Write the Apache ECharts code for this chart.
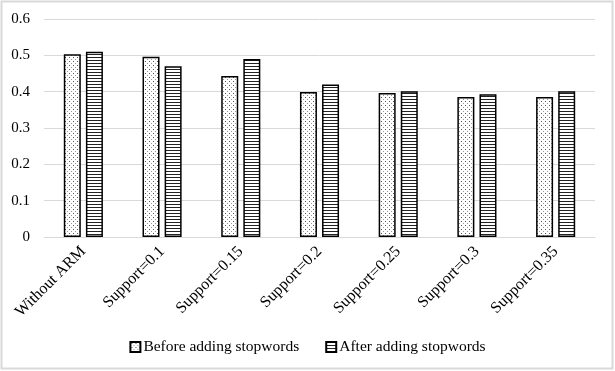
<!DOCTYPE html>
<html>
<head>
<meta charset="utf-8">
<script src="https://cdn.jsdelivr.net/npm/echarts@6/dist/echarts.min.js"></script>
<style>
  html, body { margin: 0; padding: 0; background: #fff; }
  #chart { width: 615px; height: 371px; }
</style>
</head>
<body>
<div id="chart"></div>
<script>
// values
const categories = ['Without ARM', 'Support=0.1', 'Support=0.15', 'Support=0.2', 'Support=0.25', 'Support=0.3', 'Support=0.35'];
const beforeStop = [0.503, 0.496, 0.443, 0.399, 0.396, 0.385, 0.385];
const afterStop = [0.510, 0.470, 0.490, 0.420, 0.401, 0.393, 0.401];
const yTicks = [0, 0.1, 0.2, 0.3, 0.4, 0.5, 0.6];

// dotted fill
const makeDots = () => {
  const c = document.createElement('canvas');
  c.width = 4; c.height = 4;
  const ctx = c.getContext('2d');
  ctx.fillStyle = '#fff';
  ctx.fillRect(0, 0, 4, 4);
  ctx.fillStyle = '#555';
  ctx.fillRect(1, 1, 1, 1);
  ctx.fillStyle = '#999';
  ctx.fillRect(3, 3, 1, 1);
  return c;
};
// horizontal stripes
const makeStripes = () => {
  const c = document.createElement('canvas');
  c.width = 4; c.height = 3;
  const ctx = c.getContext('2d');
  ctx.fillStyle = '#fff';
  ctx.fillRect(0, 0, 4, 3);
  ctx.fillStyle = '#222';
  ctx.fillRect(0, 0, 4, 1);
  return c;
};

const font = '"Liberation Serif", "Times New Roman", serif';
const myChart = echarts.init(document.getElementById('chart'));

const option = {
  backgroundColor: '#fff',
  animation: false,
  textStyle: { fontFamily: font },
  graphic: [{
    type: 'rect',
    shape: { x: 1.5, y: 1.5, width: 611, height: 367 },
    style: { fill: 'none', stroke: '#d9d9d9', lineWidth: 2 },
    silent: true
  }],
  legend: {
    bottom: 11,
    left: 'center',
    icon: 'rect',
    itemWidth: 10,
    itemHeight: 10,
    itemGap: 26,
    textStyle: { fontFamily: font, fontSize: 15.5, color: '#000', padding: [0, 0, 0, -2] },
    data: ['Before adding stopwords', 'After adding stopwords']
  },
  grid: { left: 44, right: 20, top: 19, bottom: 134 },
  xAxis: {
    type: 'category',
    data: categories,
    axisTick: { show: false },
    axisLine: { lineStyle: { color: '#d9d9d9' } },
    axisLabel: { rotate: 45, fontSize: 16, color: '#000', fontFamily: font, margin: 12 }
  },
  yAxis: {
    type: 'value',
    min: 0,
    max: 0.6,
    interval: 0.1,
    axisLine: { show: false },
    axisTick: { show: false },
    splitLine: { lineStyle: { color: '#d9d9d9' } },
    axisLabel: {
      fontSize: 15, color: '#000', fontFamily: font, margin: 14,
      formatter: v => yTicks.includes(+v.toFixed(1)) ? String(+v.toFixed(1)) : ''
    }
  },
  series: [
    {
      name: 'Before adding stopwords',
      type: 'bar',
      barWidth: 17,
      barGap: '30%',
      itemStyle: { color: { image: makeDots(), repeat: 'repeat' }, borderColor: '#000', borderWidth: 1.5 },
      data: beforeStop
    },
    {
      name: 'After adding stopwords',
      type: 'bar',
      barWidth: 17,
      itemStyle: { color: { image: makeStripes(), repeat: 'repeat' }, borderColor: '#000', borderWidth: 1.5 },
      data: afterStop
    }
  ]
};

option && myChart.setOption(option);
</script>
</body>
</html>
